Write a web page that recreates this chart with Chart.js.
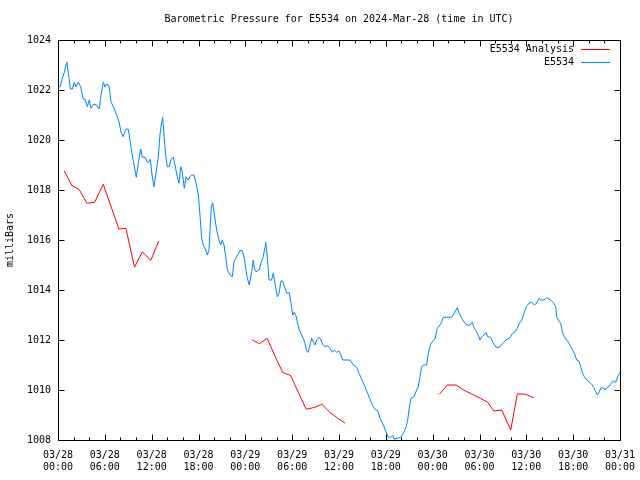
<!DOCTYPE html>
<html>
<head>
<meta charset="utf-8">
<title>Barometric Pressure for E5534</title>
<script src="https://cdn.jsdelivr.net/npm/chart.js@4/dist/chart.umd.min.js"></script>
<style>
	html, body { margin: 0; padding: 0; background: #ffffff; }
	#chartPreview { display: block; }
</style>
</head>
<body>
<canvas id="chartPreview" width="640" height="480"></canvas>
<script>
// hours since 03/28 00:00 UTC
const blueHours = [
	0.26, 0.55, 0.77, 1.02, 1.15, 1.41, 1.58, 1.84, 2.09, 2.31, 2.6, 2.9, 3.24, 3.46, 3.76, 4.01, 4.23, 4.61, 4.95, 5.29,
	5.51, 5.81, 6.02, 6.24, 6.53, 6.79, 7.17, 7.52, 7.81, 8.07, 8.33, 8.5, 8.71, 9.01, 9.22, 9.44, 9.74, 10.03, 10.29, 10.59,
	10.8, 11.15, 11.49, 11.82, 12.08, 12.3, 12.64, 12.85, 13.07, 13.23, 13.41, 13.58, 13.79, 14.0, 14.26, 14.48, 14.77, 14.99, 15.28, 15.5,
	15.72, 15.92, 16.18, 16.4, 16.69, 16.91, 17.13, 17.42, 17.68, 17.98, 18.19, 18.41, 18.61, 18.92, 19.13, 19.34, 19.47, 19.64, 19.82, 20.03,
	20.33, 20.63, 20.84, 21.05, 21.27, 21.48, 21.7, 22.04, 22.33, 22.55, 22.89, 23.31, 23.61, 23.87, 24.2, 24.5, 24.81, 25.02, 25.15, 25.37,
	25.75, 26.0, 26.3, 26.52, 26.6, 26.81, 27.03, 27.37, 27.58, 27.8, 28.1, 28.31, 28.57, 28.78, 29.08, 29.3, 29.63, 29.85, 30.07, 30.27,
	30.49, 30.7, 30.91, 31.13, 31.42, 31.64, 31.86, 32.07, 32.28, 32.5, 32.71, 32.92, 33.14, 33.44, 33.69, 33.91, 34.2, 34.55, 34.84, 35.14,
	35.4, 35.7, 36.0, 36.25, 36.47, 37.41, 37.83, 38.27, 38.56, 38.91, 39.33, 39.76, 40.1, 40.4, 40.7, 40.96, 41.26, 41.68, 42.02, 42.32,
	42.62, 42.88, 43.09, 43.47, 43.9, 44.24, 44.58, 44.8, 45.0, 45.22, 45.61, 45.86, 46.16, 46.38, 46.59, 46.8, 47.23, 47.44, 47.74, 48.08,
	48.3, 48.59, 48.94, 49.15, 49.36, 49.79, 50.43, 50.77, 51.15, 51.41, 51.71, 52.01, 52.35, 52.78, 53.07, 53.33, 53.63, 53.93, 54.06, 54.28,
	54.57, 54.83, 55.05, 55.43, 55.77, 56.11, 56.54, 56.97, 57.39, 57.9, 58.13, 58.55, 58.84, 59.1, 59.41, 59.7, 60.04, 60.34, 60.68, 61.01,
	61.32, 61.61, 61.87, 62.26, 62.6, 62.9, 63.24, 63.54, 63.76, 63.89, 64.1, 64.4, 64.61, 64.86, 65.17, 65.47, 65.81, 66.15, 66.45, 66.75,
	66.96, 67.17, 67.43, 67.73, 68.03, 68.37, 68.67, 68.89, 69.1, 69.31, 69.57, 69.87, 70.08, 70.3, 70.59, 70.84, 71.14, 71.45, 71.71, 72.0
];
const bluePressure = [
	1022.11, 1022.47, 1022.67, 1023.0, 1023.11, 1022.47, 1022.04, 1022.04, 1022.31, 1022.13, 1022.31, 1022.13, 1021.64, 1021.64, 1021.33, 1021.6, 1021.27, 1021.44, 1021.4, 1021.24,
	1021.8, 1022.31, 1022.13, 1022.24, 1022.17, 1021.53, 1021.27, 1021.0, 1020.73, 1020.33, 1020.13, 1020.27, 1020.44, 1020.43, 1020.0, 1019.53, 1019.0, 1018.51, 1019.07, 1019.64,
	1019.31, 1019.31, 1019.09, 1019.23, 1018.53, 1018.13, 1018.87, 1019.33, 1020.24, 1020.6, 1020.91, 1020.2, 1019.4, 1018.93, 1018.93, 1019.23, 1019.31, 1019.0, 1018.53, 1018.27,
	1018.93, 1018.73, 1018.07, 1018.53, 1018.4, 1018.53, 1018.6, 1018.6, 1018.27, 1017.8, 1017.0, 1016.07, 1015.8, 1015.6, 1015.4, 1015.6, 1016.33, 1017.33, 1017.49, 1017.0,
	1016.4, 1016.0, 1015.8, 1016.0, 1015.8, 1015.33, 1014.8, 1014.6, 1014.53, 1015.13, 1015.33, 1015.57, 1015.57, 1015.27, 1014.55, 1014.2, 1014.73, 1015.2, 1014.87, 1014.73,
	1014.8, 1015.07, 1015.33, 1015.73, 1015.91, 1015.33, 1014.4, 1014.4, 1014.67, 1014.27, 1013.73, 1013.87, 1014.36, 1014.36, 1014.07, 1013.87, 1013.89, 1013.47, 1013.0, 1013.11,
	1012.97, 1012.67, 1012.4, 1012.27, 1012.07, 1011.87, 1011.56, 1011.51, 1011.8, 1012.07, 1011.93, 1011.8, 1012.0, 1012.11, 1012.0, 1011.83, 1011.73, 1011.77, 1011.67, 1011.51,
	1011.6, 1011.51, 1011.56, 1011.4, 1011.2, 1011.2, 1011.0, 1010.91, 1010.67, 1010.43, 1010.13, 1009.8, 1009.53, 1009.33, 1009.2, 1009.17, 1008.87, 1008.6, 1008.33, 1008.11,
	1008.11, 1008.17, 1008.03, 1008.07, 1008.11, 1008.27, 1008.51, 1008.8, 1009.27, 1009.67, 1009.73, 1009.93, 1010.13, 1010.53, 1010.93, 1011.0, 1011.0, 1011.47, 1011.84, 1011.97,
	1012.05, 1012.47, 1012.6, 1012.73, 1012.91, 1012.91, 1012.91, 1013.07, 1013.29, 1013.07, 1012.87, 1012.73, 1012.6, 1012.6, 1012.71, 1012.47, 1012.33, 1012.13, 1012.0, 1012.13,
	1012.2, 1012.31, 1012.13, 1012.11, 1011.87, 1011.71, 1011.71, 1011.87, 1012.0, 1012.09, 1012.23, 1012.33, 1012.47, 1012.67, 1012.8, 1013.07, 1013.35, 1013.47, 1013.51, 1013.4,
	1013.47, 1013.67, 1013.6, 1013.6, 1013.69, 1013.64, 1013.56, 1013.47, 1013.33, 1012.93, 1012.8, 1012.67, 1012.33, 1012.13, 1012.0, 1011.87, 1011.67, 1011.47, 1011.2, 1011.16,
	1010.93, 1010.71, 1010.53, 1010.4, 1010.33, 1010.23, 1010.09, 1009.93, 1009.8, 1009.91, 1010.09, 1010.09, 1010.0, 1010.09, 1010.13, 1010.27, 1010.36, 1010.31, 1010.53, 1010.71
];
// analysis values, null = no analysis (gap in line)
const redHours = [
	0.8, 1.8, 2.7, 3.7, 4.7, 5.8, 7.8, 8.7, 9.8, 10.8, 11.9, 12.9,
	18,
	24.9, 25.8, 26.8, 27.8, 28.8, 29.8, 30.8, 31.8, 32.8, 33.8, 34.8, 35.8, 36.8,
	42,
	48.85, 49.9, 51.0, 51.9, 53.0, 54.1, 55.05, 55.85, 56.85, 58.0, 58.85, 59.9, 60.95
];
const redPressure = [
	1018.76, 1018.17, 1018.03, 1017.47, 1017.51, 1018.23, 1016.44, 1016.47, 1014.91, 1015.52, 1015.19, 1015.96,
	null,
	1012.0, 1011.85, 1012.07, 1011.35, 1010.7, 1010.58, 1009.9, 1009.23, 1009.3, 1009.43, 1009.12, 1008.88, 1008.67,
	null,
	1009.83, 1010.2, 1010.2, 1010.01, 1009.84, 1009.67, 1009.51, 1009.16, 1009.2, 1008.4, 1009.85, 1009.83, 1009.69
];
const xTickDates = ['03/28', '03/28', '03/28', '03/28', '03/29', '03/29', '03/29', '03/29', '03/30', '03/30', '03/30', '03/30', '03/31'];
const xTickTimes = ['00:00', '06:00', '12:00', '18:00', '00:00', '06:00', '12:00', '18:00', '00:00', '06:00', '12:00', '18:00', '00:00'];
const yTicks = [1008, 1010, 1012, 1014, 1016, 1018, 1020, 1022, 1024];

const chartTitle = 'Barometric Pressure for E5534 on 2024-Mar-28 (time in UTC)';
const FONT = "'DejaVu Sans Mono', 'Liberation Mono', monospace";

;(function () {
	'use strict';

	const toPoints = function (xs, ys) {
		return xs.map(function (x, i) {
			return { x: x, y: ys[i] };
		});
	};

	// gnuplot style frame, inward ticks, title and legend
	const gnuplotLook = {
		id: 'gnuplotLook',
		afterDatasetsDraw: function (chart) {
			const ctx = chart.ctx;
			const area = chart.chartArea;
			const xs = chart.scales.x;
			const ys = chart.scales.y;
			const l = Math.round(area.left) + 0.5;
			const r = Math.round(area.right) + 0.5;
			const t = Math.round(area.top) + 0.5;
			const b = Math.round(area.bottom) + 0.5;

			ctx.save();
			ctx.strokeStyle = '#000000';
			ctx.lineWidth = 1;
			ctx.beginPath();

			// x ticks every 2 hours, big ones every 6
			for (let h = 0; h <= 72; h += 2) {
				const px = Math.round(xs.getPixelForValue(h)) + 0.5;
				const len = h % 6 === 0 ? 6 : 3;
				ctx.moveTo(px, b);
				ctx.lineTo(px, b - len);
				ctx.moveTo(px, t);
				ctx.lineTo(px, t + len);
			}
			yTicks.forEach(function (v) {
				const py = Math.round(ys.getPixelForValue(v)) + 0.5;
				ctx.moveTo(l, py);
				ctx.lineTo(l + 6, py);
				ctx.moveTo(r, py);
				ctx.lineTo(r - 6, py);
			});
			ctx.stroke();
			ctx.strokeRect(l, t, r - l, b - t);

			// title, centred over the plot
			ctx.fillStyle = '#000000';
			ctx.font = '10px ' + FONT;
			ctx.textAlign = 'center';
			ctx.textBaseline = 'middle';
			ctx.fillText(chartTitle, (area.left + area.right) / 2, 19);

			// legend: text then sample line, top right inside
			chart.data.datasets.forEach(function (ds, i) {
				const y = Math.round(area.top + 9 + i * 13) + 0.5;
				ctx.textAlign = 'right';
				ctx.fillStyle = '#000000';
				ctx.fillText(ds.label, area.right - 46, y);
				ctx.strokeStyle = ds.borderColor;
				ctx.beginPath();
				ctx.moveTo(area.right - 39, y);
				ctx.lineTo(area.right - 10, y);
				ctx.stroke();
			});
			ctx.restore();
		}
	};

	const handleInitialChart = function () {
		const canvas = document.getElementById('chartPreview');
		if (!canvas) {
			return;
		}

		new Chart(canvas.getContext('2d'), {
			type: 'line',
			data: {
				datasets: [
					{
						label: 'E5534 Analysis',
						data: toPoints(redHours, redPressure),
						borderColor: '#ff0000',
						borderWidth: 1,
						pointRadius: 0,
						tension: 0,
						spanGaps: false,
						fill: false
					},
					{
						label: 'E5534',
						data: toPoints(blueHours, bluePressure),
						borderColor: '#0080ff',
						borderWidth: 1,
						pointRadius: 0,
						tension: 0,
						fill: false
					}
				]
			},
			options: {
				responsive: false,
				animation: false,
				devicePixelRatio: 1,
				layout: {
					padding: { left: 0, top: 40, right: 20, bottom: 0 }
				},
				plugins: {
					legend: { display: false },
					title: { display: false },
					tooltip: { enabled: false }
				},
				scales: {
					x: {
						type: 'linear',
						min: 0,
						max: 72,
						grid: { display: false, drawTicks: false },
						border: { display: false },
						afterFit: function (scale) {
							scale.height = 40;
							scale.paddingLeft = 0;
							scale.paddingRight = 0;
						},
						ticks: {
							stepSize: 6,
							autoSkip: false,
							maxRotation: 0,
							padding: 9,
							color: '#000000',
							font: { family: FONT, size: 10 },
							callback: function (value) {
								const i = Math.round(value / 6);
								return [xTickDates[i], xTickTimes[i]];
							}
						}
					},
					y: {
						min: yTicks[0],
						max: yTicks[yTicks.length - 1],
						grid: { display: false, drawTicks: false },
						border: { display: false },
						afterFit: function (scale) {
							scale.width = 58;
							scale.paddingTop = 0;
							scale.paddingBottom = 0;
						},
						ticks: {
							stepSize: 2,
							padding: 7,
							color: '#000000',
							font: { family: FONT, size: 10 },
							callback: function (value) {
								return String(value);
							}
						},
						title: {
							display: true,
							text: 'milliBars',
							color: '#000000',
							padding: { top: 4, bottom: 0 },
							font: { family: FONT, size: 10 }
						}
					}
				}
			},
			plugins: [gnuplotLook]
		});
	};

	document.addEventListener('DOMContentLoaded', handleInitialChart);
})();
</script>
</body>
</html>
